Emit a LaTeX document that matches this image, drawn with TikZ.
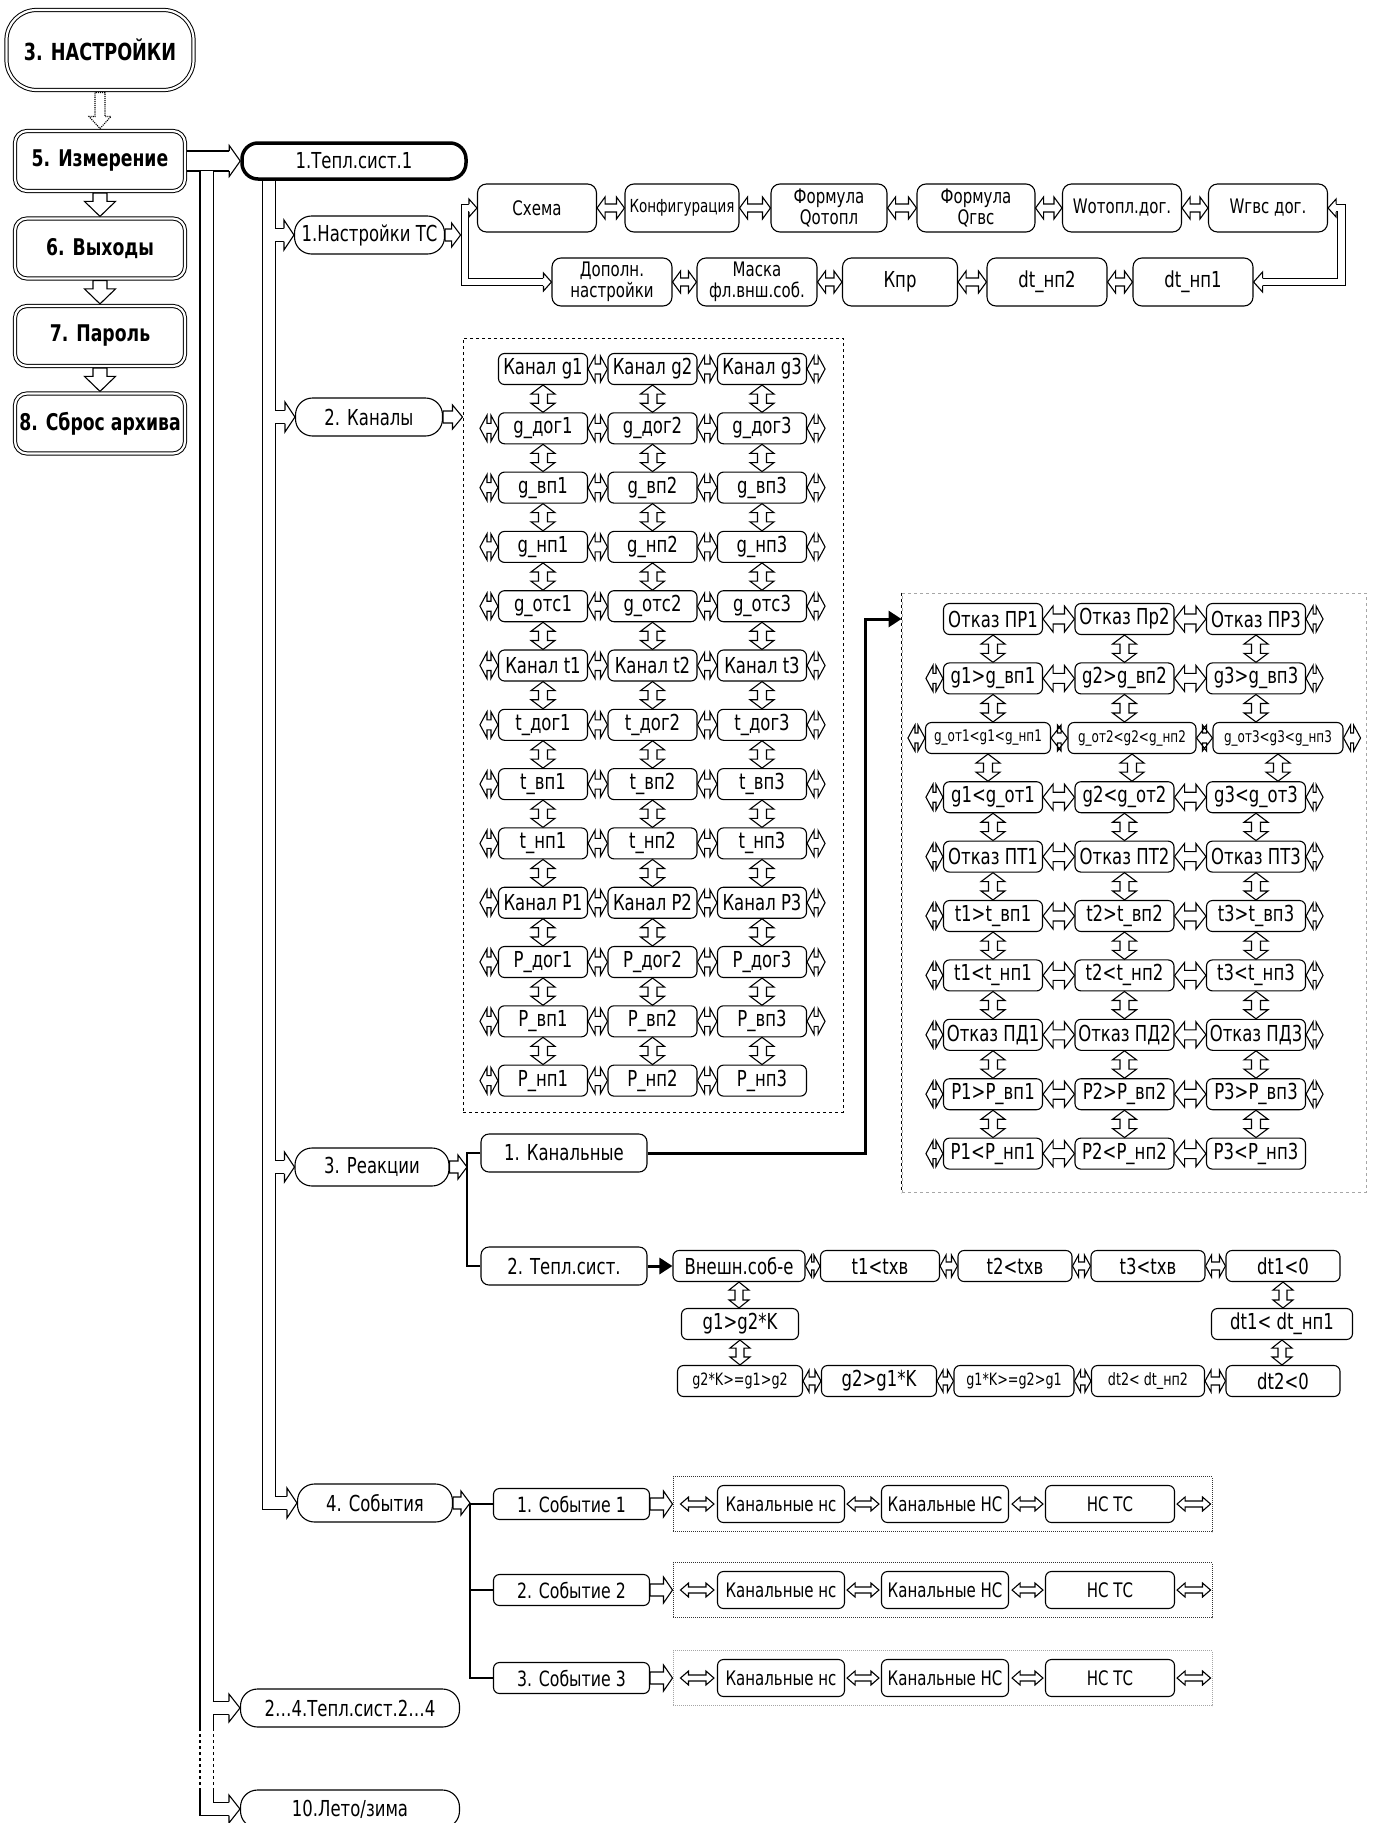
\documentclass[tikz,border=0pt]{standalone}
\usepackage{fontspec}
\setmainfont{DejaVu Sans}[FakeStretch=0.75]
\usetikzlibrary{arrows.meta,calc}

% hollow fat arrows drawn between two points
\newcommand{\hfat}[5]{%
  \draw[fatline] let \p1=(#1), \p2=(#2) in
    (\x1,\y1) -- (\x1+#5,\y1+#4) -- (\x1+#5,\y1+#3) -- (\x2-#5,\y1+#3) -- (\x2-#5,\y1+#4)
    -- (\x2,\y1) -- (\x2-#5,\y1-#4) -- (\x2-#5,\y1-#3) -- (\x1+#5,\y1-#3) -- (\x1+#5,\y1-#4) -- cycle;}
\newcommand{\vfat}[5]{%
  \draw[fatline] let \p1=(#1), \p2=(#2) in
    (\x1,\y1) -- (\x1+#4,\y1-#5) -- (\x1+#3,\y1-#5) -- (\x1+#3,\y2+#5) -- (\x1+#4,\y2+#5)
    -- (\x1,\y2) -- (\x1-#4,\y2+#5) -- (\x1-#3,\y2+#5) -- (\x1-#3,\y1-#5) -- (\x1-#4,\y1-#5) -- cycle;}
\newcommand{\rfat}[5]{%
  \draw[fatline] let \p1=(#1), \p2=(#2) in
    (\x1,\y1+#3) -- (\x2-#5,\y1+#3) -- (\x2-#5,\y1+#4) -- (\x2,\y1) -- (\x2-#5,\y1-#4)
    -- (\x2-#5,\y1-#3) -- (\x1,\y1-#3) -- cycle;}
\newcommand{\dfat}[6][]{%
  \draw[fatline,#1] let \p1=(#2), \p2=(#3) in
    (\x1-#4,\y1) -- (\x1-#4,\y2+#6) -- (\x1-#5,\y2+#6) -- (\x1,\y2) -- (\x1+#5,\y2+#6)
    -- (\x1+#4,\y2+#6) -- (\x1+#4,\y1) -- cycle;}
% open head at the end of a pipe
\newcommand{\fathead}[5]{%
  \draw[fatline, shift={(#1)}, rotate=#2] (-#5,#3) -- (-#5,#4) -- (0pt,0pt) -- (-#5,-#4) -- (-#5,-#3);}

\begin{document}
\begin{tikzpicture}[
    x=1pt, y=-1pt,
    thinline/.style={line width=1.1pt},
    fatline/.style={line width=1.1pt, draw=black, fill=white, line join=miter},
    pipe/.style={line width=1.1pt, draw=black, double=white, double distance=12pt},
    widepipe/.style={pipe, double distance=18.9pt},
    thinpipe/.style={pipe, double distance=6.5pt},
    bigarrow/.style={line width=3pt, -{Triangle[length=13pt,width=16pt]}},
    leftbox/.style={draw, double, double distance=2.2pt, line width=1pt, rounded corners=12pt,
        minimum width=170pt, minimum height=60pt, inner sep=0pt, font=\fontsize{23}{25}\selectfont\bfseries},
    menu/.style={draw, line width=1.1pt, rounded corners=17pt, minimum height=38pt, inner sep=2pt,
        font=\fontsize{22}{24}\selectfont},
    setbox/.style={draw, line width=1.1pt, rounded corners=9pt, minimum height=48pt, inner sep=1pt,
        align=center, font=\fontsize{20}{21}\selectfont},
    cell/.style={draw, line width=1.1pt, rounded corners=6pt, minimum width=89pt, minimum height=31pt,
        inner sep=1pt, font=\fontsize{22}{24}\selectfont},
    rcell/.style={cell, minimum width=99pt},
    smallcell/.style={cell, font=\fontsize{16}{18}\selectfont},
    evcell/.style={cell, minimum width=127pt, minimum height=37pt, font=\fontsize{20}{22}\selectfont},
    dashframe/.style={draw, dashed, line width=1pt, inner sep=0pt},
    dotframe/.style={draw, densely dotted, line width=1pt, inner sep=0pt, minimum width=539pt, minimum height=55pt}
]
\useasboundingbox (0,0) rectangle (1377,1823);

% Left menu column
\node[leftbox, minimum width=187pt, minimum height=80pt, rounded corners=30pt,
      font=\fontsize{23.5}{25}\selectfont\bfseries] (nast) at (100,50) {3. НАСТРОЙКИ};
\node[leftbox] (izm) at (100,161) {5. Измерение};
\node[leftbox] (vyh) at (100,248.5) {6. Выходы};
\node[leftbox] (par) at (100,336) {7. Пароль};
\node[leftbox] (sbr) at (100,423.5) {8. Сброс архива};
\dfat[densely dotted]{[yshift=-2pt]nast.south}{[yshift=2pt]izm.north}{5pt}{11pt}{12pt}
\dfat{[yshift=-1.6pt]izm.south}{[yshift=1.6pt]vyh.north}{7pt}{15.5pt}{15pt}
\dfat{[yshift=-1.6pt]vyh.south}{[yshift=1.6pt]par.north}{7pt}{15.5pt}{15pt}
\dfat{[yshift=-1.6pt]par.south}{[yshift=1.6pt]sbr.north}{7pt}{15.5pt}{15pt}

% Heat system menu
\node[menu, line width=3.5pt, minimum width=224pt, minimum height=36pt, rounded corners=16pt] (tepl) at (354,161) {1.Тепл.сист.1};
\node[menu, minimum width=150pt] (nts) at (369.5,235) {1.Настройки ТС};
\node[menu, minimum width=147pt] (kanaly) at (369,417) {2. Каналы};
\node[menu, minimum width=154pt] (reak) at (372,1167) {3. Реакции};
\node[menu, minimum width=155pt] (sob) at (375,1503) {4. События};
\node[menu, minimum width=219pt] (tepl24) at (350,1708) {2…4.Тепл.сист.2…4};
\node[menu, minimum width=219pt] (leto) at (350,1809) {10.Лето/зима};

% Pipes
\coordinate (xa) at (206.5,0);
\coordinate (xb) at (269,0);
\coordinate (pA1) at (206.5,170.5);
\coordinate (pA2) at (206.5,1728);
\coordinate (pA3) at (206.5,1790);
\draw[widepipe, shorten >=11pt] ([xshift=1.6pt]izm.east) -- (izm.east -| tepl.west);
\fathead{izm.east -| tepl.west}{0}{10pt}{15.5pt}{11pt}
\draw[pipe] (pA1) -- (pA2);
\draw[pipe, dashed] (pA2) -- (pA3);
\draw[pipe, shorten >=11pt] (pA3) |- (leto.west);
\fathead{leto.west}{0}{6.55pt}{14pt}{11pt}
\draw[pipe, shorten >=11pt] ($(xa |- tepl24.west)+(6,0)$) -- (tepl24.west);
\fathead{tepl24.west}{0}{6.55pt}{14pt}{11pt}
\draw[pipe, shorten >=10pt] (xb |- tepl.south) |- (sob.west);
\fathead{sob.west}{0}{6.55pt}{15pt}{10pt}
\foreach \nd in {nts,kanaly,reak} {
  \draw[pipe, shorten >=10pt] ($(xb |- \nd.west)+(6,0)$) -- (\nd.west);
  \fathead{\nd.west}{0}{6.55pt}{15pt}{10pt}
}

% Heat system settings
\node[setbox, minimum width=119pt] (sch) at (537,208) {Схема};
\node[setbox, minimum width=114pt, font=\fontsize{18}{20}\selectfont] (konf) at (682,208) {Конфигурация};
\node[setbox, minimum width=116pt] (fotop) at (829,208) {Формула\\Qотопл};
\node[setbox, minimum width=118pt] (fgvs) at (976,208) {Формула\\Qгвс};
\node[setbox, minimum width=119pt] (wotop) at (1122,208) {Wотопл.дог.};
\node[setbox, minimum width=119pt] (wgvs) at (1268,208) {Wгвс дог.};
\node[setbox, minimum width=120pt] (dop) at (612,282) {Дополн.\\настройки};
\node[setbox, minimum width=120pt] (mask) at (757,282) {Маска\\фл.внш.соб.};
\node[setbox, minimum width=115pt, font=\fontsize{22}{24}\selectfont] (kpr) at (900,282) {Кпр};
\node[setbox, minimum width=120pt, font=\fontsize{22}{24}\selectfont] (dtnp2) at (1047,282) {dt\_нп2};
\node[setbox, minimum width=120pt, font=\fontsize{22}{24}\selectfont] (dtnp1) at (1193,282) {dt\_нп1};
\foreach \a/\b in {sch/konf,konf/fotop,fotop/fgvs,fgvs/wotop,wotop/wgvs,dop/mask,mask/kpr,kpr/dtnp2,dtnp2/dtnp1} {
  \hfat{\a.east}{\b.west}{4pt}{11pt}{8pt}
}
\coordinate (pC) at (465,240);
\coordinate (pCl) at (460.6,0);
\coordinate (pD) at (1341.5,240);
\draw[thinpipe, shorten <=8pt, shorten >=8pt] (sch.west) -| (pC) |- (dop.west);
\fathead{sch.west}{0}{3.8pt}{9pt}{8pt}
\fathead{dop.west}{0}{3.8pt}{9pt}{8pt}
\draw[thinpipe, shorten <=8pt, shorten >=8pt] (wgvs.east) -| (pD) |- (dtnp1.east);
\fathead{wgvs.east}{180}{3.8pt}{9pt}{8pt}
\fathead{dtnp1.east}{180}{3.8pt}{10pt}{9pt}
\rfat{nts.east}{pCl |- nts.east}{6pt}{12pt}{9pt}

% Channels
\node[dashframe, minimum width=380pt, minimum height=774pt] (chfr) at (653,725) {};
\foreach \lbl [count=\r] in {Канал g,g\_дог,g\_вп,g\_нп,g\_отс,Канал t,t\_дог,t\_вп,t\_нп,Канал P,P\_дог,P\_вп,P\_нп} {
  \foreach \c in {1,2,3} {
    \node[cell] (ch-\r-\c) at ({543+109.5*(\c-1)},{369+59.3*(\r-1)}) {\lbl\c};
  }
}
\foreach \r in {1,...,13} {
  \hfat{ch-\r-1.east}{ch-\r-2.west}{5pt}{13pt}{7pt}
  \hfat{ch-\r-2.east}{ch-\r-3.west}{5pt}{13pt}{7pt}
}
\foreach \r in {2,...,13} {\hfat{[xshift=-18pt]ch-\r-1.west}{ch-\r-1.west}{5pt}{13pt}{7pt}}
\foreach \r in {1,...,12} {\hfat{ch-\r-3.east}{[xshift=18pt]ch-\r-3.east}{5pt}{13pt}{7pt}}
\foreach \r [evaluate=\r as \s using int(\r+1)] in {1,...,12} {
  \foreach \c in {1,2,3} {\vfat{ch-\r-\c.south}{ch-\s-\c.north}{4.5pt}{12pt}{9pt}}
}
\rfat{kanaly.east}{chfr.west |- kanaly.east}{6pt}{12pt}{10pt}

% Reactions
\node[menu, rounded corners=8pt, minimum width=166pt] (kanr) at (564,1153) {1. Канальные};
\node[menu, rounded corners=8pt, minimum width=166pt] (tsr) at (564,1266) {2. Тепл.сист.};
\coordinate (reaksplit) at (467,1167);
\rfat{reak.east}{reaksplit}{6pt}{12pt}{9pt}
\draw[thinline] (kanr.west) -| (reaksplit) |- (tsr.west);

% Channel reactions
\node[dashframe, draw=gray!70, minimum width=464pt, minimum height=599pt] (rfr) at (1134,892.5) {};
\draw[dashframe] (rfr.north west) -- (rfr.south west);
\node[rcell] (re-1-1) at (993,619) {Отказ ПР1};
\node[rcell] (re-1-2) at (1124.5,619) {Отказ Пр2};
\node[rcell] (re-1-3) at (1256,619) {Отказ ПР3};
\node[smallcell, minimum width=125pt] (re-3-1) at (988,738) {g\_от1<g1<g\_нп1};
\node[smallcell, minimum width=128pt] (re-3-2) at (1132,738) {g\_от2<g2<g\_нп2};
\node[smallcell, minimum width=130pt] (re-3-3) at (1278,738) {g\_от3<g3<g\_нп3};
\foreach \r/\lbl in {2/{g\c>g\_вп\c},4/{g\c<g\_от\c},5/{Отказ ПТ\c},6/{t\c>t\_вп\c},7/{t\c<t\_нп\c},
                     8/{Отказ ПД\c},9/{P\c>P\_вп\c},10/{P\c<P\_нп\c}} {
  \foreach \c in {1,2,3} {
    \node[rcell] (re-\r-\c) at ({993+131.5*(\c-1)},{619+59.4*(\r-1)}) {\lbl};
  }
}
\foreach \r in {1,...,10} {
  \hfat{re-\r-1.east}{re-\r-2.west}{5pt}{13pt}{10pt}
  \hfat{re-\r-2.east}{re-\r-3.west}{5pt}{13pt}{10pt}
}
\foreach \r in {2,...,10} {\hfat{[xshift=-17pt]re-\r-1.west}{re-\r-1.west}{5pt}{13pt}{7pt}}
\foreach \r in {1,...,9} {\hfat{re-\r-3.east}{[xshift=17pt]re-\r-3.east}{5pt}{13pt}{7pt}}
\foreach \r [evaluate=\r as \s using int(\r+1)] in {1,...,9} {
  \foreach \c in {1,2,3} {\vfat{re-\r-\c.south}{re-\s-\c.north}{4.5pt}{12pt}{9pt}}
}
\draw[bigarrow] (kanr.east) -- ++(218,0) |- (rfr.west |- re-1-1.west);

% Heat system reactions
\node[cell, minimum width=132pt] (ext) at (739,1266) {Внешн.соб-е};
\node[cell, minimum width=119pt] (t1x) at (880,1266) {t1<tхв};
\node[cell, minimum width=114pt] (t2x) at (1015,1266) {t2<tхв};
\node[cell, minimum width=114pt] (t3x) at (1148,1266) {t3<tхв};
\node[cell, minimum width=114pt] (dt1) at (1283,1266) {dt1<0};
\node[cell, minimum width=141pt] (dt1n) at (1282,1324) {dt1< dt\_нп1};
\node[cell, minimum width=114pt] (dt2) at (1283,1381) {dt2<0};
\node[cell, minimum width=113pt, font=\fontsize{17}{19}\selectfont] (dt2n) at (1148,1381) {dt2< dt\_нп2};
\node[cell, minimum width=120pt, font=\fontsize{17}{19}\selectfont] (g1k) at (1014,1381) {g1*K>=g2>g1};
\node[cell, minimum width=115pt] (g2gt) at (879,1381) {g2>g1*K};
\node[cell, minimum width=125pt, font=\fontsize{17}{19}\selectfont] (g2k) at (740,1381) {g2*K>=g1>g2};
\node[cell, minimum width=117pt] (g1gt) at (740,1324) {g1>g2*K};
\draw[bigarrow] (tsr.east) -- (ext.west);
\foreach \a/\b in {ext/t1x,t1x/t2x,t2x/t3x,t3x/dt1,g2k/g2gt,g2gt/g1k,g1k/dt2n,dt2n/dt2} {
  \hfat{\a.east}{\b.west}{4pt}{11pt}{6pt}
}
\foreach \a/\b in {ext/g1gt,g1gt/g2k,dt1/dt1n,dt1n/dt2} {
  \vfat{\a.south}{\b.north}{4pt}{10pt}{8pt}
}

% Events
\coordinate (evsplit) at (470,1504);
\foreach \k/\ypos/\col in {1/1504/black!80,2/1590/black!80,3/1678/gray!70} {
  \node[dotframe, draw=\col] (fr-\k) at (942.5,\ypos) {};
  \node[cell, minimum width=156pt, font=\fontsize{21}{23}\selectfont] (ev-\k) at (571.5,\ypos) {\k. Событие \k};
  \node[evcell] (ksm-\k) at (781,\ypos) {Канальные нс};
  \node[evcell] (kbg-\k) at (945,\ypos) {Канальные НС};
  \node[evcell, minimum width=129pt] (nstc-\k) at (1110,\ypos) {НС ТС};
  \rfat{ev-\k.east}{fr-\k.west}{6pt}{13pt}{9pt}
  \hfat{[xshift=8pt]fr-\k.west}{[xshift=-3pt]ksm-\k.west}{3pt}{7pt}{8pt}
  \hfat{[xshift=2pt]ksm-\k.east}{[xshift=-2pt]kbg-\k.west}{3pt}{7pt}{8pt}
  \hfat{[xshift=3pt]kbg-\k.east}{[xshift=-2pt]nstc-\k.west}{3pt}{7pt}{8pt}
  \hfat{[xshift=2pt]nstc-\k.east}{[xshift=-2pt]fr-\k.east}{3pt}{7pt}{8pt}
}
\rfat{sob.east}{evsplit}{6pt}{12pt}{9pt}
\draw[thinline] (ev-1.west) -- (evsplit) |- (ev-3.west);
\draw[thinline] (evsplit |- ev-2.west) -- (ev-2.west);
\end{tikzpicture}
\end{document}
